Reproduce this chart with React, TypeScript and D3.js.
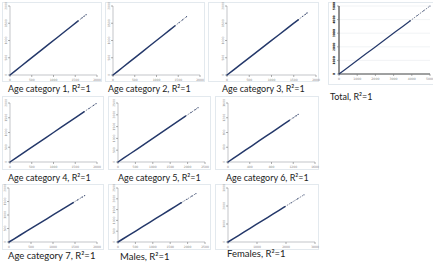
import React from "react";
import * as d3 from "d3";

const titles = [
  "Age category 1, R\u00b2=1",
  "Age category 2, R\u00b2=1",
  "Age category 3, R\u00b2=1",
  "Total,  R\u00b2=1",
  "Age category 4, R\u00b2=1",
  "Age category 5, R\u00b2=1",
  "Age category 6, R\u00b2=1",
  "Age category 7, R\u00b2=1",
  "Males, R\u00b2=1",
  "Females, R\u00b2=1",
];

const axisMax = [2000, 2000, 2000, 5000, 2000, 2500, 1600, 2000, 2500, 3000];
const tickCounts = [5, 5, 5, 6, 5, 6, 5, 5, 6, 4];

// observed values (x) with predicted = observed (R² = 1)
const obs1 = [0, 120, 260, 400, 560, 720, 900, 1080, 1260, 1420, 1560, 1650, 1700, 1750];
const obs2 = [0, 100, 240, 380, 520, 680, 840, 1000, 1160, 1300, 1420, 1520, 1600, 1690];
const obs3 = [0, 150, 300, 460, 620, 800, 980, 1160, 1330, 1480, 1600, 1700, 1760, 1800];
const obs4 = [0, 300, 700, 1100, 1500, 1900, 2300, 2700, 3100, 3500, 3900, 4300, 4650, 5000];
const obs5 = [0, 140, 300, 460, 640, 820, 1000, 1180, 1360, 1540, 1700, 1820, 1920, 1980];
const obs6 = [0, 160, 360, 560, 760, 960, 1160, 1360, 1560, 1760, 1940, 2100, 2220, 2300];
const obs7 = [0, 90, 200, 320, 440, 570, 700, 820, 940, 1040, 1130, 1200, 1250, 1290];
const obs8 = [0, 110, 250, 400, 550, 700, 860, 1020, 1180, 1330, 1460, 1560, 1660, 1720];
const obs9 = [0, 150, 330, 520, 710, 900, 1090, 1280, 1470, 1650, 1820, 1980, 2120, 2240];
const obs10 = [0, 160, 360, 560, 760, 960, 1160, 1360, 1560, 1760, 1960, 2180, 2400, 2620];
const observed = [obs1, obs2, obs3, obs4, obs5, obs6, obs7, obs8, obs9, obs10];

type L = { x0: number; x1: number; y0: number; y1: number; fx: number; fy: number; fw: number; fh: number; lx: number; ly: number; fs: number };

const layouts: L[] = [
  { x0: 10, x1: 97, y0: 6, y1: 75, fx: 2, fy: 2, fw: 99, fh: 79, lx: 8, ly: 92, fs: 9 },
  { x0: 113, x1: 200, y0: 6, y1: 75, fx: 105, fy: 2, fw: 99, fh: 79, lx: 108, ly: 92, fs: 9 },
  { x0: 227, x1: 316, y0: 6, y1: 75, fx: 208, fy: 2, fw: 110, fh: 79, lx: 222, ly: 92, fs: 9 },
  { x0: 339, x1: 430, y0: 6, y1: 74, fx: 328, fy: 2, fw: 105, fh: 82, lx: 330, ly: 100, fs: 9 },
  { x0: 10, x1: 97, y0: 103, y1: 162, fx: 2, fy: 96, fw: 101, fh: 73, lx: 8, ly: 181, fs: 9 },
  { x0: 118, x1: 205, y0: 103, y1: 162, fx: 108, fy: 96, fw: 102, fh: 73, lx: 118, ly: 181, fs: 9 },
  { x0: 228, x1: 315, y0: 103, y1: 162, fx: 215, fy: 96, fw: 103, fh: 73, lx: 226, ly: 181, fs: 9 },
  { x0: 9, x1: 97, y0: 188, y1: 242, fx: 2, fy: 184, fw: 101, fh: 65, lx: 8, ly: 259, fs: 9.5 },
  { x0: 118, x1: 205, y0: 188, y1: 242, fx: 108, fy: 184, fw: 102, fh: 65, lx: 120, ly: 260, fs: 9.5 },
  { x0: 228, x1: 315, y0: 188, y1: 242, fx: 215, fy: 184, fw: 103, fh: 65, lx: 227, ly: 257, fs: 9.5 },
];

function Panel({ i }: { i: number }) {
  const L = layouts[i];
  const max = axisMax[i];
  const data = observed[i];
  const x = d3.scaleLinear().domain([0, max]).range([L.x0, L.x1]);
  const y = d3.scaleLinear().domain([0, max]).range([L.y1, L.y0]);
  const ticks = d3.range(tickCounts[i]).map((k) => (max * k) / (tickCounts[i] - 1));
  const line = d3.line<number>().x((d) => x(d)).y((d) => y(d));
  const solid = data.slice(0, data.length - 3);
  const tail = data.slice(data.length - 4);
  const isTotal = i === 3;
  return (
    <g>
      <rect x={L.fx + 0.5} y={L.fy + 0.5} width={L.fw} height={L.fh} fill="#fff" stroke="#e3e9ee" strokeWidth={1} />
      {isTotal &&
        ticks.map((t, k) => (
          <line key={"g" + k} x1={L.x0} x2={L.x1} y1={y(t)} y2={y(t)} stroke="#eef0f2" strokeWidth={0.8} />
        ))}
      <line x1={L.x0} x2={L.x0} y1={L.y0} y2={L.y1} stroke={isTotal ? "#222" : "#9aa0a6"} strokeWidth={isTotal ? 1 : 0.6} />
      <line x1={L.x0} x2={L.x1} y1={L.y1} y2={L.y1} stroke={isTotal ? "#333" : "#9aa0a6"} strokeWidth={isTotal ? 0.9 : 0.6} />
      {ticks.map((t, k) => (
        <g key={"t" + k}>
          <line x1={x(t)} x2={x(t)} y1={L.y1} y2={L.y1 + 2} stroke="#777" strokeWidth={0.6} />
          <text x={x(t)} y={L.y1 + 6} fontSize={isTotal ? 3.2 : 3} fill="#888" textAnchor="middle" fontFamily="DejaVu Sans">
            {t}
          </text>
          <line x1={L.x0 - 2} x2={L.x0} y1={y(t)} y2={y(t)} stroke="#777" strokeWidth={0.6} />
          <text
            transform={`translate(${L.x0 - (isTotal ? 4 : 3)},${y(t)}) rotate(-90)`}
            fontSize={isTotal ? 3 : 3}
            fontWeight={isTotal ? 700 : 400}
            fill={isTotal ? "#111" : "#888"}
            textAnchor="middle"
            fontFamily="DejaVu Sans"
          >
            {t}
          </text>
        </g>
      ))}
      <path d={line(solid) || ""} fill="none" stroke="#24386a" strokeWidth={isTotal ? 1.2 : 1.5} strokeLinecap="round" />
      <path d={line(tail) || ""} fill="none" stroke="#5a6680" strokeWidth={0.8} strokeDasharray="1.5 1" />
      {tail.map((d, k) => (
        <circle key={"c" + k} cx={x(d)} cy={y(d)} r={0.6} fill="#3a4a72" />
      ))}
      <text x={L.lx} y={L.ly} fontSize={L.fs} fill="#222" fontFamily="Lato">
        {titles[i]}
      </text>
    </g>
  );
}

export default function App() {
  return (
    <svg width={433} height={263} style={{ position: "absolute", left: 0, top: 0, background: "#fff" }}>
      <rect width={433} height={263} fill="#fff" />
      {layouts.map((_, i) => (
        <Panel key={i} i={i} />
      ))}
    </svg>
  );
}
